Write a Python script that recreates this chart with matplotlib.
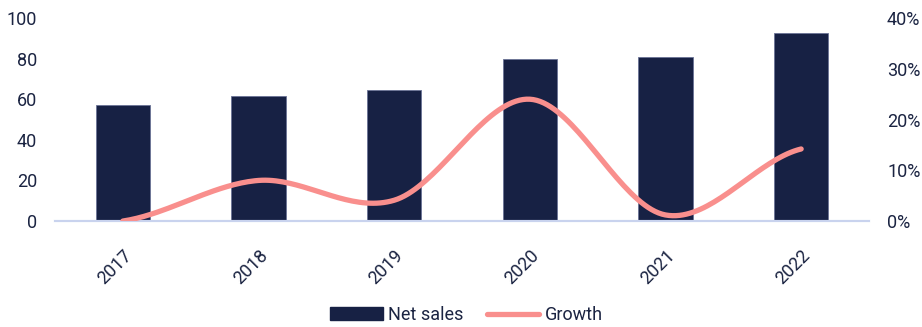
import numpy as np
import matplotlib.pyplot as plt
from matplotlib.lines import Line2D
from matplotlib.patches import Patch

# Datos
years = ['2017', '2018', '2019', '2020', '2021', '2022']
net_sales = [57.1, 61.7, 64.4, 80.0, 81.0, 92.8]
growth = [0.0, 8.0, 4.1, 24.0, 1.2, 14.2]

navy = '#172144'
pink = '#F98F8D'
axis_col = '#C9D3EE'
text_col = '#1B2442'

plt.rcParams['font.family'] = ['Roboto', 'DejaVu Sans']


# Curva suavizada tipo Excel (Catmull-Rom)
def smooth(xs, ys, n=40):
    xs = np.asarray(xs, float)
    ys = np.asarray(ys, float)
    px = np.concatenate([[2 * xs[0] - xs[1]], xs, [2 * xs[-1] - xs[-2]]])
    py = np.concatenate([[ys[0]], ys, [ys[-1]]])
    out_x, out_y = [], []
    for i in range(1, len(px) - 2):
        t = np.linspace(0, 1, n)
        for p, out in ((px, out_x), (py, out_y)):
            p0, p1, p2, p3 = p[i - 1], p[i], p[i + 1], p[i + 2]
            out.extend(0.5 * ((2 * p1) + (-p0 + p2) * t
                              + (2 * p0 - 5 * p1 + 4 * p2 - p3) * t ** 2
                              + (-p0 + 3 * p1 - 3 * p2 + p3) * t ** 3))
    return np.array(out_x), np.array(out_y)


fig = plt.figure(figsize=(9.22, 3.27), dpi=100)
ax = fig.add_axes([0.0597, 0.324, 0.8828, 0.621])
x = np.arange(len(years))

ax.bar(x, net_sales, width=0.4, color=navy, edgecolor='#6A7396', linewidth=0.6, zorder=2)
ax.set_xlim(-0.5, len(years) - 0.5)
ax.set_ylim(0, 100)
ax.set_yticks(range(0, 101, 20))
ax.set_xticks(x)
ax.set_xticklabels(years, rotation=45, ha='right', va='top', rotation_mode='anchor')

ax2 = ax.twinx()
sx, sy = smooth(x, growth)
ax2.plot(sx, sy, color=pink, linewidth=3.8, solid_capstyle='round', zorder=3)
ax2.set_ylim(0, 40)
ax2.set_yticks(range(0, 41, 10))
ax2.set_yticklabels([f'{v}%' for v in range(0, 41, 10)])

for a in (ax, ax2):
    for s in ('top', 'left', 'right'):
        a.spines[s].set_visible(False)
    a.spines['bottom'].set_color(axis_col)
    a.spines['bottom'].set_linewidth(1.5)
    a.tick_params(length=0, labelsize=13, colors=text_col)
ax.tick_params(axis='x', pad=18)
ax.tick_params(axis='y', pad=13)
ax2.tick_params(axis='y', pad=13)

handles = [Patch(facecolor=navy, edgecolor=navy),
           Line2D([0], [0], color=pink, linewidth=3.8, solid_capstyle='round')]
fig.legend(handles, ['Net sales', 'Growth'], loc='center', bbox_to_anchor=(0.506, 0.037),
           ncol=2, frameon=False, fontsize=13, handlelength=2.9, handleheight=0.7,
           handletextpad=0.3, columnspacing=1.3, labelcolor=text_col)

fig.savefig('out.png', dpi=100)
